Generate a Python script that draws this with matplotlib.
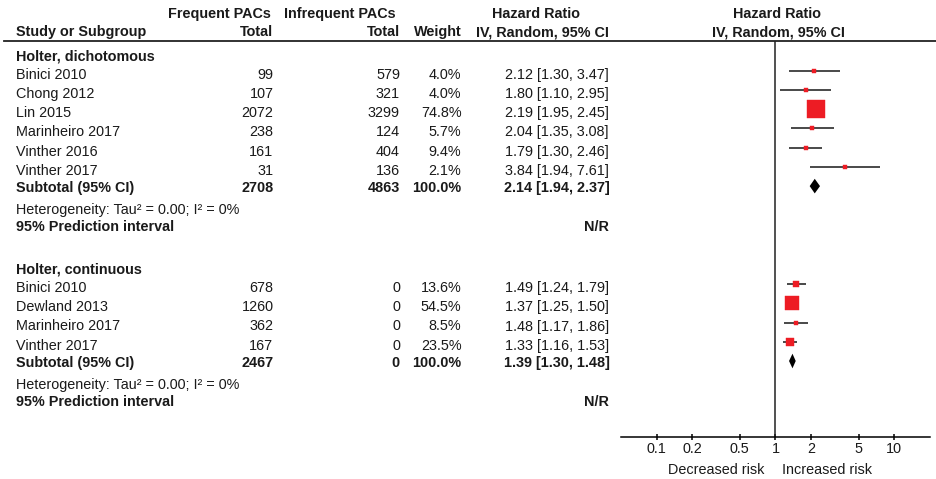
import matplotlib.pyplot as plt
from matplotlib.patches import Polygon
from matplotlib.ticker import NullLocator

# ---- data ----
dich_studies = ['Binici 2010', 'Chong 2012', 'Lin 2015', 'Marinheiro 2017', 'Vinther 2016', 'Vinther 2017']
dich_freq = [99, 107, 2072, 238, 161, 31]
dich_infreq = [579, 321, 3299, 124, 404, 136]
dich_weight = [4.0, 4.0, 74.8, 5.7, 9.4, 2.1]
dich_hr = [2.12, 1.80, 2.19, 2.04, 1.79, 3.84]
dich_lo = [1.30, 1.10, 1.95, 1.35, 1.30, 1.94]
dich_hi = [3.47, 2.95, 2.45, 3.08, 2.46, 7.61]
dich_sub = [2708, 4863, 2.14, 1.94, 2.37]  # freq, infreq, hr, lo, hi

cont_studies = ['Binici 2010', 'Dewland 2013', 'Marinheiro 2017', 'Vinther 2017']
cont_freq = [678, 1260, 362, 167]
cont_infreq = [0, 0, 0, 0]
cont_weight = [13.6, 54.5, 8.5, 23.5]
cont_hr = [1.49, 1.37, 1.48, 1.33]
cont_lo = [1.24, 1.25, 1.17, 1.16]
cont_hi = [1.79, 1.50, 1.86, 1.53]
cont_sub = [2467, 0, 1.39, 1.30, 1.48]

ticks = [0.1, 0.2, 0.5, 1, 2, 5, 10]
tick_labels = ['0.1', '0.2', '0.5', '1', '2', '5', '10']

# ---- style ----
plt.rcParams['font.family'] = ['Liberation Sans', 'DejaVu Sans']
FS = 10.4
TXT = '#1a1a1a'
RED = '#ed1c24'
W, H = 937, 479

fig = plt.figure(figsize=(W / 100, H / 100), dpi=100)
tab = fig.add_axes([0, 0, 1, 1])
tab.set_xlim(0, W)
tab.set_ylim(H, 0)
tab.axis('off')

AX_L, AX_R, AX_TOP, AX_BOT = 621, 930, 41, 437
ax = fig.add_axes([AX_L / W, 1 - AX_BOT / H, (AX_R - AX_L) / W, (AX_BOT - AX_TOP) / H])
ax.patch.set_alpha(0)
ax.set_xscale('log')
ax.set_xlim(0.05, 20)
ax.set_ylim(AX_BOT, AX_TOP)
for s in ['top', 'right', 'left']:
    ax.spines[s].set_visible(False)
ax.spines['bottom'].set_linewidth(1.1)
ax.set_yticks([])
ax.set_xticks(ticks)
ax.set_xticklabels(tick_labels)
ax.xaxis.set_minor_locator(NullLocator())
ax.tick_params(axis='x', direction='inout', length=4.5, width=1.1, pad=1.5,
               labelsize=FS, labelcolor=TXT)
ax.axvline(1, color='#222222', lw=1.1)

X_STUDY, X_FREQ, X_INF, X_WT, X_HR = 16, 273.5, 400, 461.5, 609


def t(x, y, s, ha='left', bold=False):
    tab.text(x, y, s, ha=ha, va='baseline', fontsize=FS, color=TXT,
             fontweight='bold' if bold else 'normal')


# header
t(271, 18.3, 'Frequent PACs', ha='right', bold=True)
t(396, 18.3, 'Infrequent PACs', ha='right', bold=True)
t(536.5, 18.3, 'Hazard Ratio', ha='center', bold=True)
t(777, 18.3, 'Hazard Ratio', ha='center', bold=True)
t(X_STUDY, 36, 'Study or Subgroup', bold=True)
t(X_FREQ, 36, 'Total', ha='right', bold=True)
t(X_INF, 36, 'Total', ha='right', bold=True)
t(X_WT, 36, 'Weight', ha='right', bold=True)
t(X_HR, 36, 'IV, Random, 95% CI', ha='right', bold=True)
t(778.5, 36, 'IV, Random, 95% CI', ha='center', bold=True)
tab.axhline(41, xmin=4 / W, xmax=1, color='#222222', lw=1.3)


def ci_text(hr, lo, hi):
    return f'{hr:.2f} [{lo:.2f}, {hi:.2f}]'


def group(y0, title, studies, freq, infreq, weight, hr, lo, hi, sub):
    t(X_STUDY, y0, title, bold=True)
    y = y0 + 18.8
    for i, name in enumerate(studies):
        t(X_STUDY, y, name)
        t(X_FREQ, y, str(freq[i]), ha='right')
        t(X_INF, y, str(infreq[i]), ha='right')
        t(X_WT, y, f'{weight[i]:.1f}%', ha='right')
        t(X_HR, y, ci_text(hr[i], lo[i], hi[i]), ha='right')
        ym = y - 8
        ax.plot([lo[i], hi[i]], [ym, ym], color='#2a2a2a', lw=1.2, solid_capstyle='butt')
        side = 3.0 + 0.19 * weight[i]
        ax.plot(hr[i], ym, 's', ms=side * 0.72, color=RED, mec=RED, mew=0.3)
        y += 19.2
    y = y - 19.2 + 17
    t(X_STUDY, y, 'Subtotal (95% CI)', bold=True)
    t(X_FREQ, y, str(sub[0]), ha='right', bold=True)
    t(X_INF, y, str(sub[1]), ha='right', bold=True)
    t(X_WT, y, '100.0%', ha='right', bold=True)
    t(X_HR + 1, y, ci_text(sub[2], sub[3], sub[4]), ha='right', bold=True)
    ym = y - 5.7
    ax.add_patch(Polygon([(sub[3], ym), (sub[2], ym - 7.3), (sub[4], ym), (sub[2], ym + 7.3)],
                         closed=True, color='black', lw=0))
    y += 22.3
    t(X_STUDY, y, 'Heterogeneity: Tau\u00b2 = 0.00; I\u00b2 = 0%')
    y += 17.3
    t(X_STUDY, y, '95% Prediction interval', bold=True)
    t(X_HR, y, 'N/R', ha='right', bold=True)


group(60, 'Holter, dichotomous', dich_studies, dich_freq, dich_infreq, dich_weight,
      dich_hr, dich_lo, dich_hi, dich_sub)
group(273.3, 'Holter, continuous', cont_studies, cont_freq, cont_infreq, cont_weight,
      cont_hr, cont_lo, cont_hi, cont_sub)

t(764, 474.3, 'Decreased risk', ha='right')
t(782, 474.3, 'Increased risk')

fig.savefig('out.png', dpi=100)
